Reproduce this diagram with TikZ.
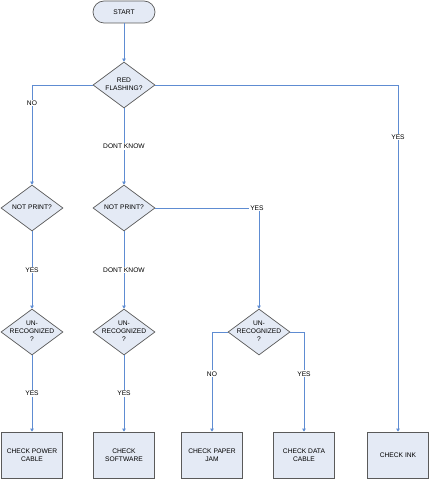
\documentclass[tikz,border=0pt]{standalone}
\usepackage{fontspec}
\setmainfont{Liberation Sans}
\usetikzlibrary{shapes.geometric,arrows.meta}
\definecolor{boxfill}{HTML}{E4EAF5}
\definecolor{boxline}{HTML}{5A5A5A}
\definecolor{flowline}{HTML}{5E8CD2}
\newcommand{\dtext}[1]{\makebox[0pt]{\begin{tabular}{@{}c@{}}#1\end{tabular}}}
\tikzset{
  every node/.style={font=\fontsize{6.7}{8}\selectfont},
  terminal/.style={draw=boxline,fill=boxfill,line width=0.7bp,rounded corners=11bp,minimum width=62bp,minimum height=22bp,inner sep=0pt},
  decision/.style={diamond,draw=boxline,fill=boxfill,line width=0.7bp,minimum width=62bp,minimum height=46bp,inner sep=0pt,aspect=1.35},
  process/.style={draw=boxline,fill=boxfill,line width=0.7bp,minimum width=61bp,minimum height=46bp,inner sep=0pt,align=center},
  flow/.style={draw=flowline,line width=0.7bp,-{Triangle[length=3bp,width=3.5bp]}},
  lbl/.style={fill=white,inner sep=1bp}
}
\begin{document}
\begin{tikzpicture}[x=1bp,y=-1bp]
  \useasboundingbox (0,0) rectangle (429,479);
  % shapes
  \node[terminal] (start) at (124,12) {START};
  \node[decision] (red) at (124,85) {\dtext{RED\\FLASHING?}};
  \node[decision] (notA) at (32,208) {\dtext{NOT PRINT?}};
  \node[decision] (notB) at (124,208) {\dtext{NOT PRINT?}};
  \node[decision] (unA) at (32,332) {\dtext{UN-\\RECOGNIZED\\?}};
  \node[decision] (unB) at (124,332) {\dtext{UN-\\RECOGNIZED\\?}};
  \node[decision] (unC) at (259,332) {\dtext{UN-\\RECOGNIZED\\?}};
  \node[process] (power) at (32,455) {CHECK POWER\\CABLE};
  \node[process] (soft) at (124,455) {CHECK\\SOFTWARE};
  \node[process] (jam) at (212,455) {CHECK PAPER\\JAM};
  \node[process] (data) at (304,455) {CHECK DATA\\CABLE};
  \node[process] (ink) at (398,455) {CHECK INK};
  % connectors
  \draw[flow] (start) -- (red);
  \draw[flow] (red.west) -| node[lbl,pos=0.59] {NO} (notA.north);
  \draw[flow] (red.east) -| node[lbl,pos=0.575] {YES} (ink.north);
  \draw[flow] (red.south) -- node[lbl] {DONT KNOW} (notB.north);
  \draw[flow] (notA.south) -- node[lbl] {YES} (unA.north);
  \draw[flow] (notB.south) -- node[lbl] {DONT KNOW} (unB.north);
  \draw[flow] (notB.east) -| node[lbl,pos=0.49] {YES} (unC.north);
  \draw[flow] (unA.south) -- node[lbl] {YES} (power.north);
  \draw[flow] (unB.south) -- node[lbl] {YES} (soft.north);
  \draw[flow] (unC.west) -| node[lbl,pos=0.71] {NO} (jam.north);
  \draw[flow] (unC.east) -| node[lbl,pos=0.71] {YES} (data.north);
\end{tikzpicture}
\end{document}
